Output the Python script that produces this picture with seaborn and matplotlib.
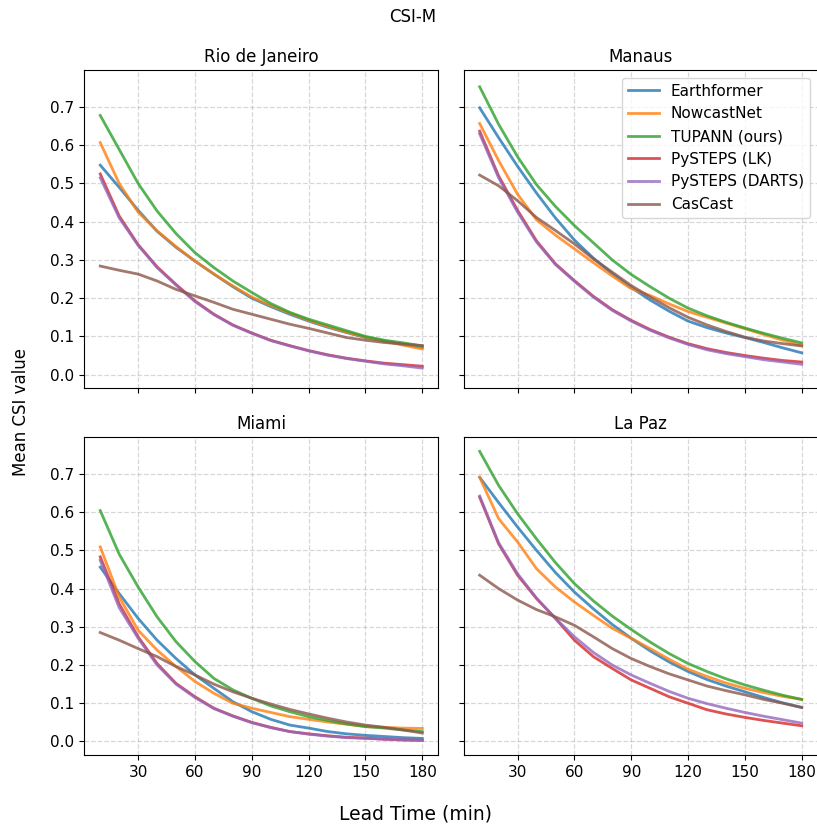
import matplotlib
matplotlib.use("Agg")
import matplotlib.pyplot as plt
import numpy as np
import pandas as pd
import seaborn as sns

lead_times = list(range(10, 181, 10))
ticks = [30, 60, 90, 120, 150, 180]
models = ["Earthformer", "NowcastNet", "TUPANN (ours)", "PySTEPS (LK)",
          "PySTEPS (DARTS)", "CasCast"]
cities = ["Rio de Janeiro", "Manaus", "Miami", "La Paz"]

# Mean CSI per lead time, one list per model and city
rio_earthformer = [0.548, 0.49, 0.43, 0.375, 0.333, 0.297, 0.263, 0.23, 0.20, 0.178, 0.158, 0.14, 0.124, 0.11, 0.097, 0.088, 0.079, 0.071]
rio_nowcastnet = [0.607, 0.50, 0.425, 0.376, 0.335, 0.297, 0.263, 0.232, 0.203, 0.181, 0.161, 0.142, 0.126, 0.111, 0.098, 0.087, 0.077, 0.067]
rio_tupann = [0.678, 0.589, 0.50, 0.428, 0.369, 0.319, 0.28, 0.245, 0.215, 0.186, 0.163, 0.145, 0.13, 0.115, 0.10, 0.09, 0.083, 0.075]
rio_lk = [0.525, 0.415, 0.34, 0.282, 0.236, 0.193, 0.158, 0.13, 0.109, 0.09, 0.076, 0.063, 0.052, 0.043, 0.036, 0.03, 0.026, 0.022]
rio_darts = [0.515, 0.41, 0.338, 0.28, 0.234, 0.191, 0.157, 0.129, 0.108, 0.089, 0.075, 0.062, 0.051, 0.042, 0.035, 0.028, 0.023, 0.017]
rio_cascast = [0.284, 0.273, 0.263, 0.245, 0.223, 0.206, 0.189, 0.171, 0.158, 0.145, 0.132, 0.121, 0.109, 0.097, 0.09, 0.084, 0.08, 0.076]

manaus_earthformer = [0.698, 0.62, 0.545, 0.475, 0.41, 0.352, 0.305, 0.264, 0.228, 0.195, 0.166, 0.14, 0.123, 0.109, 0.097, 0.084, 0.07, 0.057]
manaus_nowcastnet = [0.657, 0.56, 0.472, 0.405, 0.365, 0.329, 0.293, 0.258, 0.225, 0.207, 0.185, 0.165, 0.15, 0.135, 0.12, 0.105, 0.09, 0.077]
manaus_tupann = [0.753, 0.655, 0.57, 0.497, 0.44, 0.39, 0.345, 0.30, 0.262, 0.23, 0.20, 0.174, 0.154, 0.137, 0.122, 0.108, 0.095, 0.083]
manaus_lk = [0.637, 0.52, 0.43, 0.35, 0.29, 0.246, 0.205, 0.17, 0.142, 0.118, 0.098, 0.081, 0.068, 0.058, 0.05, 0.043, 0.037, 0.033]
manaus_darts = [0.63, 0.515, 0.425, 0.347, 0.288, 0.244, 0.203, 0.168, 0.14, 0.116, 0.096, 0.079, 0.065, 0.055, 0.047, 0.039, 0.033, 0.027]
manaus_cascast = [0.522, 0.494, 0.455, 0.411, 0.377, 0.342, 0.303, 0.268, 0.233, 0.203, 0.175, 0.15, 0.13, 0.113, 0.098, 0.088, 0.081, 0.075]

miami_earthformer = [0.456, 0.387, 0.322, 0.265, 0.217, 0.174, 0.139, 0.104, 0.078, 0.058, 0.043, 0.035, 0.026, 0.02, 0.016, 0.013, 0.01, 0.008]
miami_nowcastnet = [0.509, 0.378, 0.291, 0.239, 0.196, 0.157, 0.126, 0.10, 0.087, 0.076, 0.065, 0.058, 0.051, 0.045, 0.039, 0.037, 0.035, 0.034]
miami_tupann = [0.604, 0.49, 0.404, 0.326, 0.261, 0.209, 0.165, 0.135, 0.113, 0.093, 0.078, 0.065, 0.055, 0.046, 0.039, 0.035, 0.03, 0.026]
miami_lk = [0.483, 0.36, 0.274, 0.204, 0.152, 0.117, 0.087, 0.067, 0.05, 0.037, 0.026, 0.02, 0.015, 0.011, 0.009, 0.006, 0.004, 0.003]
miami_darts = [0.474, 0.35, 0.27, 0.20, 0.15, 0.115, 0.086, 0.066, 0.049, 0.036, 0.026, 0.019, 0.014, 0.01, 0.008, 0.006, 0.004, 0.003]
miami_cascast = [0.285, 0.265, 0.243, 0.222, 0.196, 0.174, 0.15, 0.13, 0.113, 0.098, 0.084, 0.072, 0.061, 0.051, 0.043, 0.037, 0.03, 0.022]

lapaz_earthformer = [0.691, 0.625, 0.561, 0.50, 0.442, 0.391, 0.347, 0.306, 0.27, 0.237, 0.208, 0.183, 0.162, 0.145, 0.13, 0.115, 0.101, 0.089]
lapaz_nowcastnet = [0.691, 0.583, 0.522, 0.452, 0.404, 0.365, 0.33, 0.296, 0.27, 0.243, 0.215, 0.189, 0.17, 0.153, 0.139, 0.128, 0.118, 0.11]
lapaz_tupann = [0.759, 0.67, 0.596, 0.53, 0.468, 0.413, 0.368, 0.328, 0.293, 0.26, 0.23, 0.204, 0.183, 0.164, 0.148, 0.134, 0.121, 0.11]
lapaz_lk = [0.639, 0.517, 0.435, 0.374, 0.322, 0.265, 0.222, 0.191, 0.161, 0.139, 0.117, 0.10, 0.083, 0.072, 0.063, 0.055, 0.048, 0.041]
lapaz_darts = [0.642, 0.52, 0.439, 0.375, 0.322, 0.274, 0.233, 0.20, 0.174, 0.152, 0.131, 0.113, 0.099, 0.087, 0.076, 0.066, 0.057, 0.048]
lapaz_cascast = [0.435, 0.40, 0.37, 0.345, 0.326, 0.304, 0.274, 0.243, 0.217, 0.196, 0.177, 0.161, 0.145, 0.133, 0.122, 0.11, 0.10, 0.089]

series = {
    "Rio de Janeiro": [rio_earthformer, rio_nowcastnet, rio_tupann, rio_lk, rio_darts, rio_cascast],
    "Manaus": [manaus_earthformer, manaus_nowcastnet, manaus_tupann, manaus_lk, manaus_darts, manaus_cascast],
    "Miami": [miami_earthformer, miami_nowcastnet, miami_tupann, miami_lk, miami_darts, miami_cascast],
    "La Paz": [lapaz_earthformer, lapaz_nowcastnet, lapaz_tupann, lapaz_lk, lapaz_darts, lapaz_cascast],
}

rows = []
for city in cities:
    for model, vals in zip(models, series[city]):
        for t, v in zip(lead_times, vals):
            rows.append({"city": city, "model": model, "lead": t, "csi": v})
df = pd.DataFrame(rows)

palette = dict(zip(models, sns.color_palette("tab10", len(models))))

fig = plt.figure(figsize=(8.17, 8.24), dpi=100)
axes = fig.subplots(2, 2, sharex=True, sharey=True)
fig.subplots_adjust(left=0.103, right=1.001, top=0.915, bottom=0.084,
                    wspace=0.071, hspace=0.154)

for ax, city in zip(axes.flat, cities):
    sub = df[df["city"] == city]
    sns.lineplot(data=sub, x="lead", y="csi", hue="model", hue_order=models,
                 palette=palette, linewidth=2, alpha=0.8, ax=ax,
                 legend=(city == "Manaus"))
    ax.set_title(city, fontsize=12)
    ax.set_xlabel("")
    ax.set_ylabel("")
    ax.set_xticks(ticks)
    ax.grid(True, linestyle="--", color="#b0b0b0", alpha=0.5, linewidth=0.9)
    ax.tick_params(labelsize=11)

axes[0, 1].legend(loc="upper right", fontsize=11)

fig.suptitle("CSI-M", fontsize=12, x=0.505, y=0.990)
fig.supylabel("Mean CSI value", fontsize=12, x=0.015)
fig.supxlabel("Lead Time (min)", fontsize=13.5, x=0.508, y=0.0)

fig.savefig("out.png", dpi=100)
